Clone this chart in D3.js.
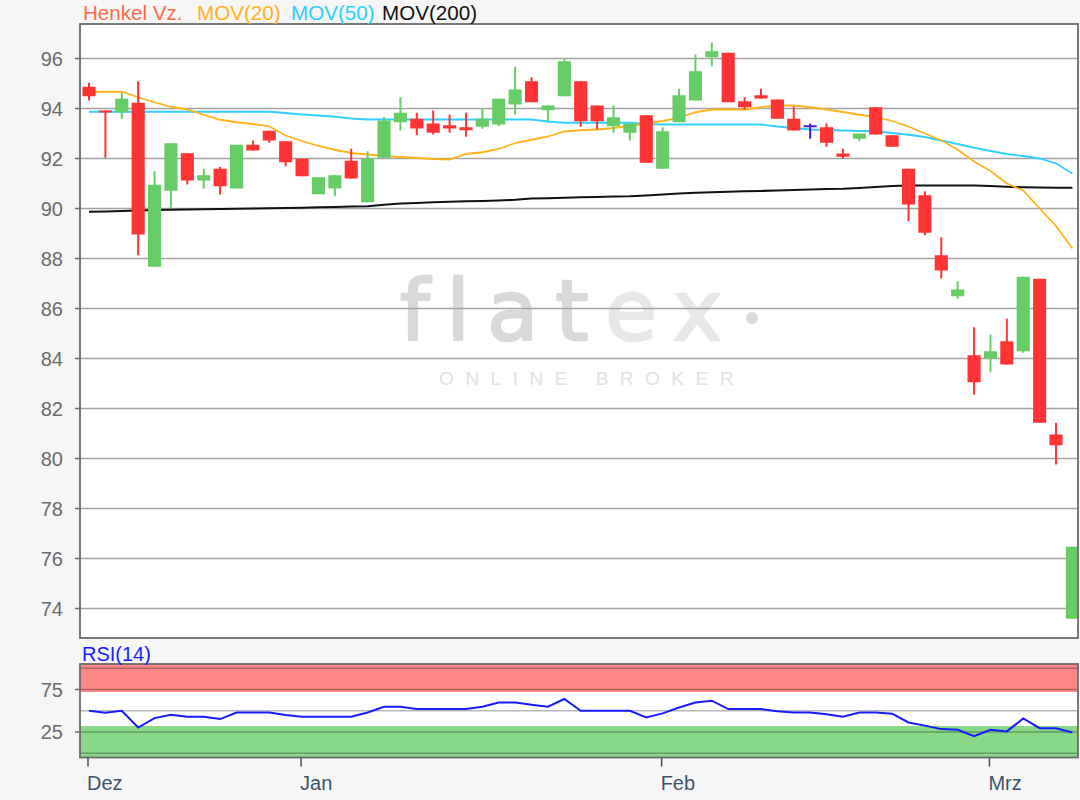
<!DOCTYPE html>
<html><head><meta charset="utf-8">
<script src="https://cdn.jsdelivr.net/npm/d3@7"></script>
<style>
html,body{margin:0;padding:0;background:#f6f6f6;}
svg{display:block;font-family:"Liberation Sans",Arial,sans-serif;}
</style></head>
<body><svg id="c" width="1080" height="800"></svg>
<script>
// ---------- DATA ----------
const dates = ["09.12","10.12","11.12","12.12","13.12","16.12","17.12","18.12","19.12","20.12","23.12","27.12","30.12",
"02.01","03.01","06.01","07.01","08.01","09.01","10.01","13.01","14.01","15.01","16.01","17.01","20.01","21.01","22.01","23.01","24.01","27.01","28.01","29.01","30.01","31.01",
"03.02","04.02","05.02","06.02","07.02","10.02","11.02","12.02","13.02","14.02","17.02","18.02","19.02","20.02","21.02","24.02","25.02","26.02","27.02","28.02",
"02.03","03.03","04.03","05.03","06.03","09.03"];
const open  = [94.87,93.92,93.85,94.23,87.67,90.71,92.21,91.12,91.59,90.80,92.55,93.11,92.69,91.99,90.57,90.80,91.91,90.25,92.03,93.45,93.59,93.40,93.33,93.25,93.27,93.36,94.16,95.09,93.93,94.49,95.09,94.12,93.29,93.03,93.73,91.59,93.45,94.32,96.05,96.23,94.29,94.53,94.36,93.59,93.29,93.25,92.20,92.79,94.05,92.93,91.59,90.53,88.13,86.49,84.13,84.00,84.69,84.29,87.19,80.96,73.59];
const high  = [95.03,93.92,94.63,95.09,91.49,92.61,92.21,91.59,91.67,92.55,92.72,93.11,92.69,91.99,91.25,91.33,92.39,92.29,93.65,94.45,93.83,93.92,93.76,93.83,94.00,94.39,95.67,95.25,94.12,95.99,95.09,94.12,94.12,93.40,93.73,93.25,94.79,96.16,96.63,96.23,94.45,94.79,94.36,94.09,93.40,93.40,92.39,93.00,94.05,92.93,91.59,90.69,88.85,87.09,85.25,84.96,85.59,87.27,87.19,81.43,76.47];
const low   = [94.32,92.03,93.59,88.13,87.67,90.03,90.96,90.79,90.56,90.80,92.32,92.63,91.69,91.29,90.57,90.49,91.20,90.25,92.03,93.12,92.93,92.96,93.03,92.87,93.19,93.29,93.76,94.25,93.49,94.49,93.27,93.16,93.03,92.72,91.83,91.59,93.45,94.32,95.69,94.25,93.96,94.40,93.59,93.12,92.79,92.47,91.99,92.69,92.96,92.47,89.49,88.93,87.20,86.39,82.56,83.45,83.76,84.23,81.43,79.76,73.59];
const close = [94.49,93.85,94.39,88.96,90.95,92.61,91.12,91.33,90.89,92.55,92.32,92.72,91.85,91.29,91.25,91.33,91.20,92.00,93.52,93.83,93.20,93.03,93.20,93.13,93.59,94.39,94.76,94.25,94.12,95.89,93.49,93.49,93.65,93.40,91.83,93.09,94.53,95.49,96.29,94.25,94.05,94.40,93.59,93.12,93.29,92.63,92.07,93.00,92.96,92.47,90.16,89.03,87.52,86.76,83.05,84.29,83.76,87.27,81.43,80.53,76.47];
const mov20  = [94.67,94.67,94.67,94.45,94.25,94.07,93.96,93.75,93.55,93.45,93.38,93.29,92.92,92.70,92.50,92.35,92.22,92.16,92.10,92.06,92.02,91.98,91.96,92.18,92.25,92.38,92.62,92.75,92.88,93.08,93.13,93.16,93.22,93.30,93.40,93.50,93.63,93.85,93.96,93.96,93.96,94.05,94.12,94.12,94.05,93.96,93.86,93.75,93.66,93.50,93.28,93.00,92.73,92.35,91.88,91.50,91.00,90.72,90.00,89.30,88.40];
const mov50  = [93.87,93.87,93.87,93.87,93.87,93.87,93.87,93.87,93.87,93.87,93.87,93.87,93.82,93.76,93.72,93.67,93.60,93.56,93.56,93.56,93.56,93.56,93.56,93.56,93.56,93.56,93.56,93.56,93.48,93.43,93.43,93.43,93.43,93.43,93.38,93.36,93.36,93.36,93.36,93.36,93.36,93.36,93.28,93.22,93.16,93.14,93.12,93.10,93.09,93.02,92.95,92.86,92.72,92.58,92.43,92.30,92.18,92.10,92.00,91.80,91.40];
const mov200 = [89.87,89.88,89.90,89.92,89.94,89.95,89.96,89.97,89.98,89.99,90.00,90.01,90.02,90.03,90.05,90.06,90.08,90.09,90.15,90.20,90.22,90.25,90.27,90.29,90.30,90.32,90.35,90.40,90.41,90.43,90.45,90.46,90.48,90.49,90.52,90.56,90.60,90.63,90.65,90.67,90.69,90.70,90.72,90.74,90.76,90.78,90.79,90.82,90.86,90.90,90.92,90.92,90.92,90.92,90.92,90.90,90.87,90.85,90.84,90.83,90.83];
const rsi = [50,47.6,50,30.3,41.3,45.3,42.9,42.9,40.2,48,48,48,45,42.9,42.9,42.9,42.9,48,54.7,54.7,52,52,52,52,54.7,59.8,59.8,57.1,54.7,63.8,50,50,50,50,42.1,46.9,53.9,59.8,61.8,52,52,52,49.5,48,48,46,42.9,48,48,46.5,36.2,32.5,28.4,27.6,20,27.6,25.7,40.9,29.5,29.5,24.5];
const priceTicks = [74,76,78,80,82,84,86,88,90,92,94,96];
const rsiTicks = [25,75];
const rsiGrid = [0,25,50,75,100];
const monthTicks = [{d:"09.12",label:"Dez"},{d:"02.01",label:"Jan"},{d:"03.02",label:"Feb"},{d:"02.03",label:"Mrz"}];
const legendItems = [{t:"Henkel Vz.",c:"#ff6a4d",x:83},{t:"MOV(20)",c:"#ffb31a",x:197},{t:"MOV(50)",c:"#2fd0ff",x:291},{t:"MOV(200)",c:"#111",x:382}];
const rsiBands = [{from:72,to:105,c:"#ff8787"},{from:-5,to:32,c:"#88d888"}];

// ---------- LAYOUT ----------
const L=80, R=1078, T=24, B=638;
const RT=664, RB=757.5;
const svg = d3.select("#c");
const x = d3.scaleBand().domain(dates).range([80.8,1080.6]).paddingInner(0.2).paddingOuter(0.1);
const cx = d => x(d)+x.bandwidth()/2;
const y = d3.scaleLinear().domain([72.82,97.38]).range([B,T]);
const yr = d3.scaleLinear().domain([-5,105]).range([RB,RT]);

const defs = svg.append("defs");
defs.append("clipPath").attr("id","clipMain").append("rect").attr("x",L).attr("y",T).attr("width",R-L).attr("height",B-T);
defs.append("clipPath").attr("id","clipRsi").append("rect").attr("x",L).attr("y",RT).attr("width",R-L).attr("height",RB-RT);

// main panel
svg.append("rect").attr("x",L).attr("y",T).attr("width",R-L).attr("height",B-T).attr("fill","#fff");

// watermark
const wm = svg.append("g");
wm.append("text").attr("x",400).attr("y",340)
  .attr("font-family","'DejaVu Sans',sans-serif").attr("font-size",84)
  .attr("letter-spacing",17).attr("fill","#d9d9d9").attr("stroke","#d9d9d9").attr("stroke-width",2.5)
  .attr("stroke-linejoin","round")
  .html('<tspan>flat</tspan><tspan fill="#e8e8e8" stroke="#e8e8e8">ex</tspan>');
wm.append("circle").attr("cx",752).attr("cy",318).attr("r",6).attr("fill","#dadada");
wm.append("text").attr("x",592).attr("y",385).attr("text-anchor","middle")
  .attr("font-size",19).attr("letter-spacing",11.5).attr("fill","#e2e2e2").text("ONLINE BROKER");

// grid
svg.append("g").selectAll("line").data(priceTicks).join("line")
  .attr("x1",L).attr("x2",R).attr("y1",d=>y(d)).attr("y2",d=>y(d))
  .attr("stroke","#a3a3a3").attr("stroke-width",1.6);

const gm = svg.append("g").attr("clip-path","url(#clipMain)");
// MAs
const mkLine = arr => d3.line().x((v,i)=>cx(dates[i])).y(v=>y(v))(arr);
gm.append("path").attr("d",mkLine(mov200)).attr("fill","none").attr("stroke","#111").attr("stroke-width",2.2);
gm.append("path").attr("d",mkLine(mov50)).attr("fill","none").attr("stroke","#2fd0ff").attr("stroke-width",1.8);
gm.append("path").attr("d",mkLine(mov20)).attr("fill","none").attr("stroke","#ffb31a").attr("stroke-width",1.8);

// candles
const candles = dates.map((d,i)=>({d,o:open[i],h:high[i],l:low[i],c:close[i]}));
const col = c => c.c>c.o ? "#66cc66" : (c.c<c.o ? "#ff3333" : "#4b1ccf");
const cg = gm.append("g");
cg.selectAll("line.w").data(candles).join("line").attr("class","w")
  .attr("x1",c=>cx(c.d)).attr("x2",c=>cx(c.d)).attr("y1",c=>y(c.h)).attr("y2",c=>y(c.l))
  .attr("stroke",col).attr("stroke-width",2);
cg.selectAll("rect").data(candles.filter(c=>c.o!==c.c)).join("rect")
  .attr("x",c=>x(c.d)).attr("width",x.bandwidth())
  .attr("y",c=>y(Math.max(c.o,c.c))).attr("height",c=>Math.max(2,y(Math.min(c.o,c.c))-y(Math.max(c.o,c.c))))
  .attr("fill",col);
cg.selectAll("line.dj").data(candles.filter(c=>c.o===c.c)).join("line").attr("class","dj")
  .attr("x1",c=>x(c.d)).attr("x2",c=>x(c.d)+x.bandwidth()).attr("y1",c=>y(c.o)).attr("y2",c=>y(c.o))
  .attr("stroke",col).attr("stroke-width",2);

svg.append("rect").attr("x",L).attr("y",T).attr("width",R-L).attr("height",B-T)
  .attr("fill","none").attr("stroke","#6b6b6b").attr("stroke-width",1.8);

// price axis
const ya = svg.append("g");
ya.selectAll("line").data(priceTicks).join("line").attr("x1",L-5).attr("x2",L).attr("y1",d=>y(d)).attr("y2",d=>y(d)).attr("stroke","#6b6b6b").attr("stroke-width",1.5);
ya.selectAll("text").data(priceTicks).join("text").attr("x",63).attr("y",d=>y(d)).attr("dy","0.36em")
  .attr("text-anchor","end").attr("font-size",20).attr("fill","#6a6a6a").text(d=>d);

// legend
const lg = svg.append("g");
lg.selectAll("text").data(legendItems).join("text").attr("x",d=>d.x).attr("y",20).attr("font-size",20.6)
  .attr("fill",d=>d.c).text(d=>d.t);

// ---------- RSI ----------
svg.append("rect").attr("x",L).attr("y",RT).attr("width",R-L).attr("height",RB-RT).attr("fill","#fff");
const gr = svg.append("g").attr("clip-path","url(#clipRsi)");
gr.selectAll("rect").data(rsiBands).join("rect").attr("x",L).attr("width",R-L)
  .attr("y",d=>yr(d.to)).attr("height",d=>yr(d.from)-yr(d.to)).attr("fill",d=>d.c);
gr.selectAll("line").data(rsiGrid).join("line").attr("x1",L).attr("x2",R).attr("y1",d=>yr(d)).attr("y2",d=>yr(d))
  .attr("stroke","rgba(0,0,0,0.28)").attr("stroke-width",1.6);
gr.append("path").attr("d",d3.line().x((v,i)=>cx(dates[i])).y(v=>yr(v))(rsi))
  .attr("fill","none").attr("stroke","#1a1aff").attr("stroke-width",2);
svg.append("rect").attr("x",L).attr("y",RT).attr("width",R-L).attr("height",RB-RT)
  .attr("fill","none").attr("stroke","#6b6b6b").attr("stroke-width",1.8);
const ra = svg.append("g");
ra.selectAll("line").data(rsiTicks).join("line").attr("x1",L-5).attr("x2",L).attr("y1",d=>yr(d)).attr("y2",d=>yr(d)).attr("stroke","#6b6b6b").attr("stroke-width",1.5);
ra.selectAll("text").data(rsiTicks).join("text").attr("x",63).attr("y",d=>yr(d)).attr("dy","0.36em")
  .attr("text-anchor","end").attr("font-size",20).attr("fill","#6a6a6a").text(d=>d);
svg.append("text").attr("x",82).attr("y",661).attr("font-size",20).attr("fill","#1a1aff").text("RSI(14)");

// x axis
const xa = svg.append("g");
xa.selectAll("line").data(monthTicks).join("line").attr("x1",d=>cx(d.d)-1).attr("x2",d=>cx(d.d)-1)
  .attr("y1",RB).attr("y2",RB+9).attr("stroke","#3d546b").attr("stroke-width",1.5);
xa.selectAll("text").data(monthTicks).join("text").attr("x",d=>cx(d.d)-2).attr("y",790)
  .attr("font-size",20).attr("fill","#3d546b").text(d=>d.label);
</script></body></html>
